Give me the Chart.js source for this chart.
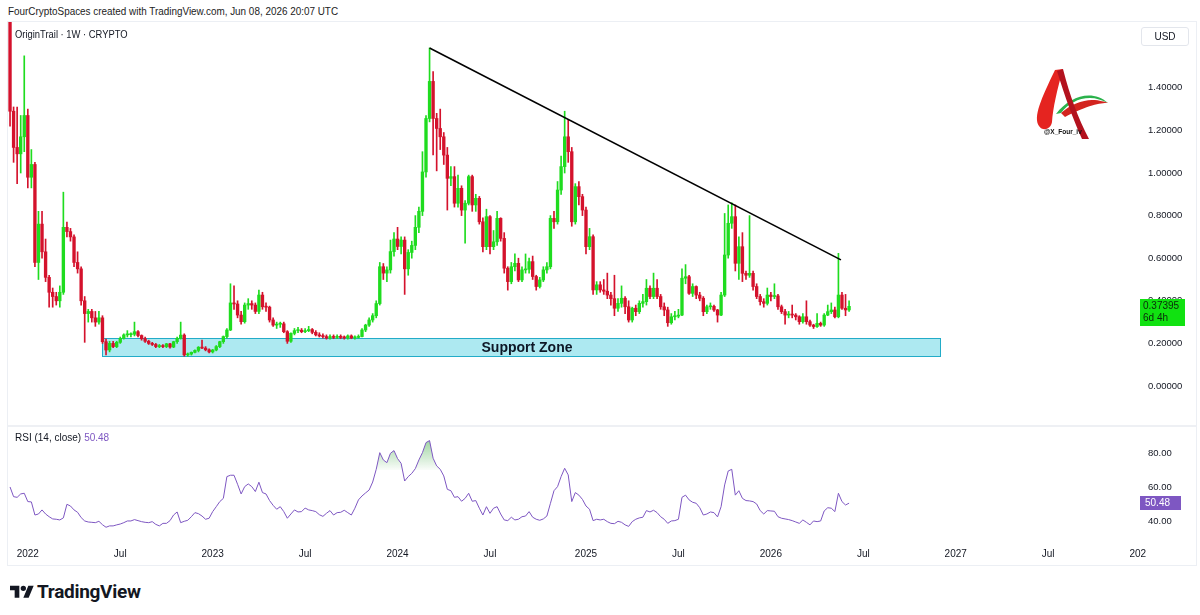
<!DOCTYPE html>
<html><head><meta charset="utf-8">
<script src="https://cdn.jsdelivr.net/npm/chart.js@4.4.1/dist/chart.umd.min.js"></script>
<style>
html,body{margin:0;padding:0;background:#fff;}
body{width:1200px;height:615px;position:relative;overflow:hidden;font-family:'Liberation Sans',Arial,sans-serif;color:#131722;}
.abs{position:absolute;}
#hdr{left:8px;top:5px;font-size:10.5px;white-space:nowrap;color:#222;transform:scaleX(0.943);transform-origin:0 0;}
#legend{left:15px;top:29px;font-size:10px;white-space:nowrap;transform:scaleX(0.94);transform-origin:0 0;}
#rsiLegend{left:15px;top:432px;font-size:10px;white-space:nowrap;}
#rsiLegend span{color:#7e57c2;margin-left:3px;}
#usd{left:1141px;top:27px;width:48px;height:19px;border:1px solid #e3e6ec;border-radius:3px;font-size:10px;line-height:17px;text-align:center;box-sizing:border-box;}
#frame{left:7px;top:21px;width:1190px;height:545px;border:1px solid #eceff4;box-sizing:border-box;}
#sep{left:8px;top:425px;width:1188px;height:2px;background:#eef0f4;}
#mask{left:1146px;top:543px;width:50px;height:20px;background:#fff;}
#tvlogo{left:10px;top:580px;display:flex;align-items:center;}
#tvlogo span{font-family:Roboto,'Liberation Sans',sans-serif;font-weight:700;font-size:19px;margin-left:3px;letter-spacing:-0.3px;color:#131722;}
</style></head>
<body>
<div id="frame" class="abs"></div>
<canvas id="c1" class="abs" width="1200" height="403" style="left:0;top:22px"></canvas>
<div id="sep" class="abs"></div>
<canvas id="c2" class="abs" width="1200" height="144" style="left:0;top:426px"></canvas>
<div id="mask" class="abs"></div>
<div id="hdr" class="abs">FourCryptoSpaces created with TradingView.com, Jun 08, 2026 20:07 UTC</div>
<div id="legend" class="abs">OriginTrail · 1W · CRYPTO</div>
<div id="rsiLegend" class="abs">RSI (14, close)<span>50.48</span></div>
<div id="usd" class="abs">USD</div>
<svg class="abs" style="left:1030px;top:62px" width="82" height="82" viewBox="0 0 82 82">
  <path d="M26,52 C40,34 62,27 78,41 C72,38 66,36 60,36 C48,36 38,42 31,51 Z" fill="#2bb24c"/>
  <path d="M31,51 C40,43 52,38 62,38 C70,38 75,40 78,41 C70,41 58,43 35,55 Z" fill="#d3241f"/>
  <path d="M9,64 C3,55 11,37 25,8 L33,7 C27,28 23,46 22,60 C21,67 13,70 9,64 Z" fill="#e52420"/>
  <path d="M27,9 L33,7 C40,34 48,56 59,77 L52,77 C43,57 35,35 27,9 Z" fill="#b3121e"/>
  <text x="14" y="72" font-family="Liberation Sans" font-size="6.5" font-weight="bold" fill="#111">@X_Four_iv</text>
</svg>
<div id="tvlogo" class="abs">
  <svg width="24" height="18" viewBox="0 0 36 27"><path d="M14 22H7V11H0V4h14v18zM28 22h-8l7.5-18h8L28 22zM20 4a4 4 0 1 1 0 8 4 4 0 0 1 0-8z" fill="#131722"/></svg>
  <span>TradingView</span>
</div>
<script>
// ---------- data ----------
const FIRST_WEEK = '2021-11-29';
const opens = [1.80,1.29,1.12,1.09,1.17,1.27,0.98,1.04,0.58,0.76,
 0.63,0.51,0.44,0.42,0.40,0.44,0.745,0.725,0.70,0.58,
 0.55,0.40,0.34,0.35,0.32,0.30,0.32,0.208,0.169,0.20,
 0.185,0.205,0.224,0.24,0.241,0.243,0.255,0.237,0.222,0.21,
 0.20,0.195,0.185,0.19,0.185,0.198,0.183,0.208,0.224,0.239,
 0.146,0.15,0.158,0.167,0.182,0.178,0.17,0.16,0.169,0.185,
 0.208,0.232,0.263,0.39,0.385,0.333,0.302,0.38,0.387,0.38,
 0.35,0.427,0.372,0.37,0.31,0.286,0.29,0.292,0.255,0.21,
 0.247,0.26,0.262,0.255,0.26,0.265,0.252,0.24,0.235,0.232,
 0.225,0.232,0.228,0.233,0.228,0.226,0.235,0.226,0.228,0.232,
 0.263,0.286,0.31,0.33,0.387,0.56,0.53,0.545,0.631,0.69,
 0.655,0.685,0.55,0.627,0.66,0.745,0.82,1.005,1.256,1.43,
 1.256,1.209,1.17,1.084,0.975,0.983,0.858,0.928,0.826,0.858,
 0.983,0.85,0.881,0.771,0.654,0.795,0.654,0.677,0.787,0.693,
 0.553,0.49,0.56,0.576,0.498,0.545,0.548,0.584,0.514,0.467,
 0.498,0.545,0.56,0.787,0.771,0.92,1.03,1.17,1.10,0.771,
 0.936,0.889,0.826,0.654,0.701,0.451,0.475,0.451,0.445,0.427,
 0.41,0.365,0.388,0.412,0.372,0.31,0.365,0.349,0.388,0.396,
 0.459,0.42,0.459,0.42,0.372,0.357,0.297,0.325,0.328,0.333,
 0.506,0.513,0.435,0.467,0.427,0.412,0.349,0.372,0.374,0.357,
 0.333,0.427,0.615,0.764,0.795,0.576,0.654,0.529,0.52,0.529,
 0.467,0.42,0.396,0.388,0.427,0.42,0.423,0.372,0.349,0.333,
 0.336,0.333,0.325,0.302,0.325,0.302,0.286,0.279,0.294,0.286,
 0.333,0.349,0.357,0.325,0.427,0.365,0.357];
const highs = [1.88,1.31,1.31,1.27,1.55,1.30,1.11,1.05,0.82,0.82,
 0.69,0.52,0.46,0.44,0.47,0.91,0.77,0.74,0.71,0.63,
 0.56,0.42,0.36,0.36,0.35,0.35,0.33,0.22,0.21,0.21,
 0.21,0.23,0.245,0.26,0.25,0.30,0.26,0.24,0.23,0.215,
 0.205,0.20,0.195,0.195,0.20,0.20,0.21,0.23,0.30,0.245,
 0.155,0.16,0.17,0.185,0.215,0.185,0.175,0.172,0.19,0.21,
 0.235,0.27,0.48,0.47,0.40,0.35,0.39,0.41,0.40,0.39,
 0.45,0.44,0.39,0.375,0.32,0.30,0.30,0.30,0.26,0.25,
 0.27,0.275,0.27,0.27,0.28,0.27,0.26,0.25,0.245,0.24,
 0.24,0.24,0.24,0.24,0.235,0.24,0.24,0.235,0.24,0.27,
 0.29,0.32,0.34,0.40,0.58,0.575,0.56,0.685,0.72,0.745,
 0.70,0.70,0.64,0.68,0.80,0.84,1.10,1.27,1.587,1.476,
 1.28,1.30,1.19,1.12,1.03,1.03,0.99,0.94,0.87,0.99,
 0.99,0.90,0.89,0.79,0.83,0.80,0.73,0.82,0.79,0.72,
 0.56,0.58,0.62,0.60,0.56,0.62,0.60,0.61,0.52,0.51,
 0.56,0.58,0.80,0.82,0.96,1.08,1.29,1.25,1.12,0.95,
 0.96,0.90,0.84,0.74,0.71,0.49,0.49,0.50,0.53,0.44,
 0.52,0.41,0.47,0.42,0.40,0.37,0.38,0.40,0.43,0.50,
 0.47,0.53,0.50,0.43,0.39,0.37,0.34,0.35,0.36,0.55,
 0.57,0.52,0.48,0.47,0.44,0.42,0.38,0.39,0.38,0.36,
 0.44,0.81,0.85,0.86,0.85,0.70,0.72,0.54,0.80,0.54,
 0.48,0.43,0.41,0.46,0.44,0.48,0.43,0.38,0.36,0.35,
 0.38,0.34,0.33,0.34,0.40,0.31,0.29,0.34,0.30,0.34,
 0.38,0.39,0.37,0.623,0.44,0.43,0.40];
const lows = [1.22,1.05,0.95,1.00,1.10,0.93,0.93,0.56,0.50,0.60,
 0.49,0.37,0.37,0.38,0.37,0.43,0.70,0.68,0.56,0.53,
 0.38,0.205,0.30,0.30,0.28,0.29,0.20,0.146,0.16,0.18,
 0.18,0.20,0.22,0.23,0.23,0.235,0.23,0.215,0.205,0.195,
 0.19,0.18,0.18,0.18,0.18,0.178,0.18,0.20,0.22,0.14,
 0.14,0.145,0.155,0.16,0.175,0.165,0.155,0.155,0.165,0.18,
 0.20,0.225,0.26,0.36,0.32,0.29,0.295,0.36,0.36,0.34,
 0.34,0.36,0.35,0.30,0.28,0.27,0.275,0.25,0.20,0.205,
 0.24,0.25,0.25,0.25,0.255,0.245,0.235,0.23,0.225,0.22,
 0.22,0.222,0.222,0.222,0.22,0.22,0.222,0.22,0.225,0.23,
 0.255,0.28,0.30,0.32,0.38,0.50,0.49,0.53,0.61,0.64,
 0.62,0.43,0.52,0.60,0.64,0.72,0.80,0.98,1.24,1.085,
 1.01,1.11,1.04,0.826,0.94,0.84,0.84,0.80,0.67,0.85,
 0.82,0.82,0.76,0.63,0.64,0.62,0.64,0.66,0.68,0.53,
 0.45,0.48,0.54,0.49,0.49,0.53,0.53,0.50,0.45,0.46,
 0.49,0.53,0.55,0.74,0.76,0.90,1.00,1.05,0.75,0.76,
 0.85,0.80,0.62,0.64,0.43,0.43,0.44,0.43,0.41,0.38,
 0.33,0.35,0.37,0.34,0.30,0.30,0.33,0.34,0.37,0.38,
 0.41,0.41,0.41,0.36,0.33,0.28,0.29,0.31,0.32,0.33,
 0.48,0.43,0.42,0.41,0.40,0.33,0.34,0.36,0.35,0.30,
 0.33,0.42,0.60,0.74,0.54,0.50,0.49,0.50,0.51,0.45,
 0.41,0.38,0.37,0.38,0.40,0.41,0.36,0.34,0.29,0.32,
 0.32,0.31,0.29,0.295,0.29,0.28,0.27,0.275,0.28,0.28,
 0.33,0.34,0.32,0.32,0.36,0.33,0.35];
const closes = [1.29,1.12,1.09,1.17,1.27,0.98,1.04,0.58,0.76,0.63,
 0.51,0.44,0.42,0.40,0.44,0.745,0.725,0.70,0.58,0.55,
 0.40,0.34,0.35,0.32,0.30,0.32,0.208,0.169,0.20,0.185,
 0.205,0.224,0.24,0.241,0.243,0.255,0.237,0.222,0.21,0.20,
 0.195,0.185,0.19,0.185,0.198,0.183,0.208,0.224,0.239,0.146,
 0.15,0.158,0.167,0.182,0.178,0.17,0.16,0.169,0.185,0.208,
 0.232,0.263,0.39,0.385,0.333,0.302,0.38,0.387,0.38,0.35,
 0.427,0.372,0.37,0.31,0.286,0.29,0.292,0.255,0.21,0.247,
 0.26,0.262,0.255,0.26,0.265,0.252,0.24,0.235,0.232,0.225,
 0.232,0.228,0.233,0.228,0.226,0.235,0.226,0.228,0.232,0.263,
 0.286,0.31,0.33,0.387,0.56,0.53,0.545,0.631,0.69,0.655,
 0.685,0.55,0.627,0.66,0.745,0.82,1.005,1.256,1.43,1.256,
 1.209,1.17,1.084,0.975,0.983,0.858,0.928,0.826,0.858,0.983,
 0.85,0.881,0.771,0.654,0.795,0.654,0.677,0.787,0.693,0.553,
 0.49,0.56,0.576,0.498,0.545,0.548,0.584,0.514,0.467,0.498,
 0.545,0.56,0.787,0.771,0.92,1.03,1.17,1.10,0.771,0.936,
 0.889,0.826,0.654,0.701,0.451,0.475,0.451,0.445,0.427,0.41,
 0.365,0.388,0.412,0.372,0.31,0.365,0.349,0.388,0.396,0.459,
 0.42,0.459,0.42,0.372,0.357,0.297,0.325,0.328,0.333,0.506,
 0.513,0.435,0.467,0.427,0.412,0.349,0.372,0.374,0.357,0.333,
 0.427,0.615,0.764,0.795,0.576,0.654,0.529,0.52,0.529,0.467,
 0.42,0.396,0.388,0.427,0.42,0.423,0.372,0.349,0.333,0.336,
 0.333,0.325,0.302,0.325,0.302,0.286,0.279,0.294,0.286,0.333,
 0.349,0.357,0.325,0.427,0.365,0.357,0.37395];
const rsiValues = [60,54.3,53.9,55.9,56.3,51.4,51.2,43.5,44.1,46.5,
 44.1,42.5,41.2,41.0,40.6,41.8,49.8,48.8,46.5,45.1,
 42.0,40.0,39.4,39.2,39.0,39.8,37.8,36.3,37.1,37.1,
 37.7,38.2,39.0,40.0,40.0,40.8,40.2,39.6,39.2,39.0,
 39.6,38.0,37.1,38.6,38.6,40.2,43.5,45.3,39.0,39.8,
 40.4,42.5,44.9,44.3,42.9,41.0,41.6,45.5,48.4,51.4,
 53.3,66.1,66.9,66.9,61.6,55.9,60.2,61.8,60.2,57.3,
 62.8,56.7,55.9,52.0,49.2,46.9,48.4,45.5,41.6,44.1,
 46.5,45.3,45.5,47.6,46.5,46.1,45.5,43.7,42.7,44.5,
 46.1,43.5,44.9,45.1,46.3,44.9,43.5,47.5,52.4,54.7,
 56.5,58.2,62.9,70.4,80.2,75.9,74.3,79.8,81.4,76.7,
 73.9,63.5,66.1,68.0,70.8,75.9,80.2,86.1,87.3,76.9,
 72.4,70.4,66.5,58.6,57.8,53.9,54.3,51.6,53.3,56.3,
 51.6,52.0,47.5,43.5,48.4,44.5,47.5,48.4,44.1,40.6,
 40.2,42.2,40.6,41.0,42.5,42.9,45.5,42.2,41.0,40.4,
 41.2,42.9,50.4,57.8,60.2,66.1,71.0,67.1,51.4,56.7,
 55.2,52.7,48.8,46.9,40.2,41.0,40.6,41.0,39.6,38.6,
 38.4,39.8,39.2,37.7,36.8,39.6,41.0,41.8,42.2,46.1,
 45.3,46.3,44.9,42.5,41.0,38.6,40.0,40.2,41.0,53.9,
 55.2,52.4,51.0,50.4,47.8,43.5,44.1,45.3,44.9,42.4,
 48.4,61.2,69.4,70.4,55.2,57.8,53.3,52.0,51.8,51.4,
 50.0,46.1,44.1,46.1,45.9,45.7,42.5,41.6,41.2,40.8,
 40.2,39.4,38.6,40.6,39.2,37.7,40.0,39.6,40.0,45.9,
 47.8,47.5,45.5,56.3,51.4,49.4,50.48];
const priceTicks = [0, 0.2, 0.4, 0.6, 0.8, 1.0, 1.2, 1.4];
const rsiTicks = [40, 60, 80];
const tickDates = ['2022-01-03','2022-07-04','2023-01-02','2023-07-03','2024-01-01','2024-07-01','2025-01-06','2025-07-07','2026-01-05','2026-07-06','2027-01-04','2027-07-05','2028-01-03'];
const tickLabels = ['2022','Jul','2023','Jul','2024','Jul','2025','Jul','2026','Jul','2027','Jul','2028'];
const trendDates = ['2024-03-04','2026-05-23'];
const trendValues = [1.587, 0.592];
const zoneDates = ['2022-05-29','2026-12-04'];
const zoneValues = [0.1408, 0.2254];
const zoneLabel = 'Support Zone';
const lastPrice = 0.37395;
const countdown = '6d 4h';
const lastRsi = 50.48;
const rsiOverbought = 70;

// ---------- helpers ----------
const ORIGIN = Date.UTC(2022, 0, 1);
const dayOf = s => (Date.parse(s + 'T00:00:00Z') - ORIGIN) / 86400000;
const weekDays = opens.map((_, i) => dayOf(FIRST_WEEK) + 7 * i);
const GREEN = '#1fdc1f', RED = '#d4122c', RSI_COLOR = '#7e57c2';
const candleColor = c => (closes[c.dataIndex] >= opens[c.dataIndex] ? GREEN : RED);
const X_MIN = -37, X_MAX = 2178;
Chart.defaults.font.family = "'Liberation Sans', Arial, sans-serif";
Chart.defaults.color = '#131722';
const fitRight = s => { s.width = 67; s.paddingTop = 0; s.paddingBottom = 0; };

const overlayPlugin = {
  id: 'overlay',
  beforeDatasetsDraw(chart) {
    const {ctx, scales: {x, y}} = chart;
    const x1 = x.getPixelForValue(dayOf(zoneDates[0])), x2 = x.getPixelForValue(dayOf(zoneDates[1]));
    const y1 = y.getPixelForValue(zoneValues[1]), y2 = y.getPixelForValue(zoneValues[0]);
    ctx.save();
    ctx.fillStyle = 'rgba(0,188,212,0.32)';
    ctx.fillRect(x1, y1, x2 - x1, y2 - y1);
    ctx.strokeStyle = '#22acc8'; ctx.lineWidth = 1;
    ctx.strokeRect(Math.round(x1) + 0.5, Math.round(y1) + 0.5, Math.round(x2 - x1), Math.round(y2 - y1));
    ctx.fillStyle = '#0d1726'; ctx.font = "bold 14px 'Liberation Sans', Arial";
    ctx.textAlign = 'center'; ctx.textBaseline = 'middle';
    ctx.fillText(zoneLabel, (x1 + x2) / 2 + 6, (y1 + y2) / 2 + 1);
    ctx.restore();
  },
  afterDraw(chart) {
    const {ctx, scales: {y}} = chart;
    const py = y.getPixelForValue(lastPrice);
    ctx.save();
    ctx.fillStyle = '#11e211';
    ctx.fillRect(1140, Math.round(py) - 7, 45, 27);
    ctx.fillStyle = '#0b2a0b'; ctx.font = "10px 'Liberation Sans', Arial";
    ctx.textAlign = 'left'; ctx.textBaseline = 'middle';
    ctx.fillText(lastPrice.toFixed(5), 1143, Math.round(py) + 0.5);
    ctx.fillText(countdown, 1143, Math.round(py) + 12);
    ctx.restore();
  }
};

new Chart(document.getElementById('c1'), {
  type: 'bar',
  data: {
    datasets: [
      { type: 'line', data: trendDates.map((d, i) => ({x: dayOf(d), y: trendValues[i]})),
        borderColor: '#000', borderWidth: 1.6, pointRadius: 0, order: 0 },
      { data: weekDays.map((x, i) => ({x, y: [opens[i], closes[i]]})),
        backgroundColor: candleColor, barThickness: 2.7, minBarLength: 1, grouped: false, borderWidth: 0, order: 1 },
      { data: weekDays.map((x, i) => ({x, y: [lows[i], highs[i]]})),
        backgroundColor: candleColor, barThickness: 1, grouped: false, borderWidth: 0, order: 2 }
    ]
  },
  options: {
    responsive: false, animation: false, events: [],
    layout: {padding: {left: 8, right: 0, top: 0, bottom: 0}},
    plugins: {legend: {display: false}, tooltip: {enabled: false}},
    scales: {
      x: {type: 'linear', min: X_MIN, max: X_MAX, display: false, offset: false},
      y: {position: 'right', min: -0.1831, max: 1.7089,
          grid: {display: false, drawTicks: false}, border: {display: false},
          afterBuildTicks: s => { s.ticks = priceTicks.map(v => ({value: v})); },
          afterFit: fitRight,
          ticks: {padding: 15, color: '#131722', font: {size: 9.5}, callback: v => v.toFixed(5)}}
    }
  },
  plugins: [overlayPlugin]
});

const rsiPlugin = {
  id: 'rsiLabel',
  afterDraw(chart) {
    const {ctx, scales: {y}} = chart;
    const py = Math.round(y.getPixelForValue(lastRsi));
    ctx.save();
    ctx.fillStyle = RSI_COLOR;
    ctx.fillRect(1140, py - 7, 41, 14);
    ctx.fillStyle = '#fff'; ctx.font = "10px 'Liberation Sans', Arial";
    ctx.textAlign = 'left'; ctx.textBaseline = 'middle';
    ctx.fillText(lastRsi.toFixed(2), 1145, py + 0.5);
    ctx.restore();
  }
};

const rsiChart = new Chart(document.getElementById('c2'), {
  type: 'line',
  data: {
    datasets: [{
      data: weekDays.map((x, i) => ({x, y: rsiValues[i]})),
      borderColor: RSI_COLOR, borderWidth: 1, pointRadius: 0, tension: 0,
      fill: {target: {value: rsiOverbought}, above: 'rgba(76,175,80,0.25)', below: 'rgba(0,0,0,0)'}
    }]
  },
  options: {
    responsive: false, animation: false, events: [],
    layout: {padding: {left: 8, right: 0, top: 2, bottom: 0}},
    plugins: {legend: {display: false}, tooltip: {enabled: false}},
    scales: {
      x: {type: 'linear', min: X_MIN, max: X_MAX, offset: false,
          grid: {display: false, drawTicks: false}, border: {display: false},
          afterBuildTicks: s => { s.ticks = tickDates.map(d => ({value: dayOf(d)})); },
          afterFit: s => { s.height = 30; s.paddingLeft = 0; s.paddingRight = 0; },
          ticks: {autoSkip: false, maxRotation: 0, padding: 8, color: '#131722', font: {size: 10},
                  callback: (v, i) => tickLabels[i]}},
      y: {position: 'right', min: 28.8, max: 94.7,
          grid: {display: false, drawTicks: false}, border: {display: false},
          afterBuildTicks: s => { s.ticks = rsiTicks.map(v => ({value: v})); },
          afterFit: fitRight,
          ticks: {padding: 15, color: '#131722', font: {size: 9.5}, callback: v => v.toFixed(2)}}
    }
  },
  plugins: [rsiPlugin]
});

// gradient fill for the overbought zone, placed with the chart's own y scale
(function () {
  const ys = rsiChart.scales.y;
  const g = rsiChart.ctx.createLinearGradient(0, ys.getPixelForValue(88), 0, ys.getPixelForValue(rsiOverbought));
  g.addColorStop(0, 'rgba(76,175,80,0.55)');
  g.addColorStop(1, 'rgba(76,175,80,0.03)');
  rsiChart.data.datasets[0].fill.above = g;
  rsiChart.update('none');
})();
</script>
</body></html>
